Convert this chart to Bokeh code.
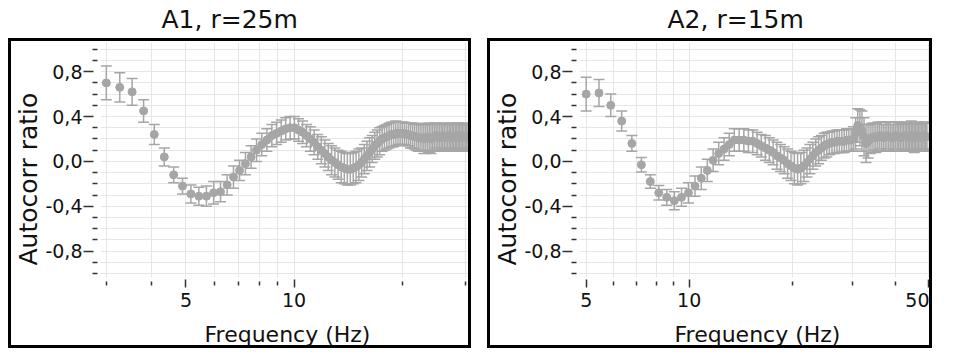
from bokeh.plotting import figure
from bokeh.models import (FixedTicker, Whisker, TeeHead, ColumnDataSource,
                          Range1d, NumeralTickFormatter, Label, Title, Spacer)
from bokeh.layouts import row, column
from bokeh.embed import file_html
from bokeh.resources import INLINE

# ---------------- data ----------------
A1_TITLE = "A1, r=25m"
A2_TITLE = "A2, r=15m"
X_LABEL = "Frequency (Hz)"
Y_LABEL = "Autocorr ratio"

A1_FREQ = [
    3.00, 3.27, 3.54, 3.81, 4.08, 4.35, 4.62, 4.89, 5.16, 5.43,
    5.70, 5.97, 6.24, 6.51, 6.78, 7.05, 7.32, 7.59, 7.86, 8.13,
    8.40, 8.67, 8.94, 9.21, 9.48, 9.75, 10.02, 10.29, 10.56, 10.83,
    11.10, 11.37, 11.64, 11.91, 12.18, 12.45, 12.72, 12.99, 13.26, 13.53,
    13.80, 14.07, 14.34, 14.61, 14.88, 15.15, 15.42, 15.69, 15.96, 16.23,
    16.50, 16.77, 17.04, 17.31, 17.58, 17.85, 18.12, 18.39, 18.66, 18.93,
    19.20, 19.47, 19.74, 20.01, 20.28, 20.55, 20.82, 21.09, 21.36, 21.63,
    21.90, 22.17, 22.44, 22.71, 22.98, 23.25, 23.52, 23.79, 24.06, 24.33,
    24.60, 24.87, 25.14, 25.41, 25.68, 25.95, 26.22, 26.49, 26.76, 27.03,
    27.30, 27.57, 27.84, 28.11, 28.38, 28.65, 28.92, 29.19, 29.46, 29.73,
    30.00, 30.27, 30.54, 30.81,
]
A1_RATIO = [
    0.70, 0.66, 0.62, 0.45, 0.24, 0.04, -0.12, -0.22, -0.29, -0.31,
    -0.31, -0.28, -0.27, -0.21, -0.14, -0.08, -0.02, 0.04, 0.10, 0.15,
    0.19, 0.23, 0.25, 0.27, 0.29, 0.30, 0.30, 0.28, 0.26, 0.23,
    0.20, 0.17, 0.13, 0.10, 0.07, 0.04, 0.01, -0.01, -0.03, -0.05,
    -0.06, -0.07, -0.07, -0.06, -0.05, -0.03, -0.01, 0.02, 0.05, 0.08,
    0.11, 0.14, 0.16, 0.18, 0.20, 0.21, 0.22, 0.23, 0.24, 0.24,
    0.25, 0.25, 0.25, 0.25, 0.25, 0.24, 0.24, 0.23, 0.23, 0.22,
    0.22, 0.21, 0.21, 0.21, 0.20, 0.21, 0.22, 0.21, 0.20, 0.21,
    0.22, 0.23, 0.22, 0.21, 0.22, 0.23, 0.22, 0.21, 0.22, 0.23,
    0.22, 0.21, 0.22, 0.22, 0.23, 0.22, 0.21, 0.22, 0.23, 0.22,
    0.22, 0.21, 0.22, 0.22,
]
A1_ERR = [
    0.15, 0.13, 0.12, 0.10, 0.09, 0.08, 0.07, 0.07, 0.08, 0.08,
    0.09, 0.10, 0.09, 0.09, 0.10, 0.09, 0.10, 0.10, 0.10, 0.10,
    0.10, 0.10, 0.10, 0.10, 0.10, 0.10, 0.10, 0.10, 0.10, 0.10,
    0.11, 0.11, 0.11, 0.12, 0.12, 0.12, 0.13, 0.13, 0.13, 0.14,
    0.14, 0.14, 0.14, 0.14, 0.14, 0.14, 0.13, 0.13, 0.13, 0.13,
    0.12, 0.12, 0.12, 0.12, 0.11, 0.11, 0.11, 0.11, 0.11, 0.11,
    0.11, 0.10, 0.10, 0.10, 0.10, 0.10, 0.10, 0.11, 0.11, 0.11,
    0.12, 0.12, 0.12, 0.12, 0.13, 0.12, 0.12, 0.13, 0.13, 0.12,
    0.12, 0.11, 0.12, 0.12, 0.11, 0.11, 0.12, 0.12, 0.11, 0.11,
    0.12, 0.12, 0.11, 0.12, 0.11, 0.12, 0.12, 0.11, 0.11, 0.12,
    0.11, 0.12, 0.11, 0.11,
]

A2_FREQ = [
    5.00, 5.45, 5.90, 6.35, 6.80, 7.25, 7.70, 8.15, 8.60, 9.05,
    9.50, 9.95, 10.40, 10.85, 11.30, 11.75, 12.20, 12.65, 13.10, 13.55,
    14.00, 14.45, 14.90, 15.35, 15.80, 16.25, 16.70, 17.15, 17.60, 18.05,
    18.50, 18.95, 19.40, 19.85, 20.30, 20.75, 21.20, 21.65, 22.10, 22.55,
    23.00, 23.45, 23.90, 24.35, 24.80, 25.25, 25.70, 26.15, 26.60, 27.05,
    27.50, 27.95, 28.40, 28.85, 29.30, 29.75, 30.20, 30.65, 31.10, 31.55,
    32.00, 32.45, 32.90, 33.35, 33.80, 34.25, 34.70, 35.15, 35.60, 36.05,
    36.50, 36.95, 37.40, 37.85, 38.30, 38.75, 39.20, 39.65, 40.10, 40.55,
    41.00, 41.45, 41.90, 42.35, 42.80, 43.25, 43.70, 44.15, 44.60, 45.05,
    45.50, 45.95, 46.40, 46.85, 47.30, 47.75, 48.20, 48.65, 49.10, 49.55,
]
A2_RATIO = [
    0.60, 0.61, 0.50, 0.36, 0.16, -0.03, -0.18, -0.28, -0.32, -0.35,
    -0.32, -0.28, -0.22, -0.15, -0.08, 0.01, 0.07, 0.11, 0.15, 0.19,
    0.19, 0.19, 0.18, 0.18, 0.16, 0.14, 0.12, 0.10, 0.08, 0.05,
    0.03, 0.01, -0.02, -0.04, -0.06, -0.07, -0.06, -0.04, -0.01, 0.02,
    0.05, 0.08, 0.10, 0.12, 0.14, 0.15, 0.16, 0.17, 0.17, 0.18,
    0.18, 0.18, 0.18, 0.19, 0.19, 0.19, 0.20, 0.25, 0.32, 0.30,
    0.27, 0.22, 0.16, 0.18, 0.20, 0.21, 0.22, 0.21, 0.22, 0.23,
    0.22, 0.21, 0.22, 0.23, 0.22, 0.22, 0.21, 0.22, 0.23, 0.22,
    0.22, 0.21, 0.22, 0.22, 0.23, 0.22, 0.21, 0.22, 0.23, 0.22,
    0.21, 0.22, 0.23, 0.22, 0.22, 0.21, 0.22, 0.23, 0.22, 0.22,
]
A2_ERR = [
    0.15, 0.12, 0.10, 0.09, 0.07, 0.065, 0.06, 0.065, 0.07, 0.08,
    0.08, 0.09, 0.09, 0.10, 0.10, 0.10, 0.10, 0.10, 0.10, 0.10,
    0.10, 0.10, 0.10, 0.10, 0.10, 0.10, 0.11, 0.11, 0.11, 0.12,
    0.12, 0.12, 0.13, 0.13, 0.14, 0.14, 0.14, 0.14, 0.13, 0.13,
    0.12, 0.12, 0.12, 0.11, 0.11, 0.11, 0.10, 0.10, 0.10, 0.10,
    0.10, 0.10, 0.10, 0.10, 0.10, 0.10, 0.11, 0.14, 0.15, 0.16,
    0.18, 0.17, 0.17, 0.15, 0.13, 0.13, 0.12, 0.13, 0.13, 0.12,
    0.13, 0.12, 0.13, 0.12, 0.13, 0.13, 0.12, 0.13, 0.12, 0.13,
    0.13, 0.12, 0.12, 0.13, 0.12, 0.13, 0.12, 0.12, 0.13, 0.12,
    0.13, 0.12, 0.12, 0.13, 0.12, 0.12, 0.13, 0.12, 0.12, 0.13,
]

A1_X_MAJOR = [5, 10]
A1_X_MINOR = [3, 4, 6, 7, 8, 9, 20, 30]
A2_X_MAJOR = [5, 10, 50]
A2_X_MINOR = [6, 7, 8, 9, 20, 30, 40]
Y_MAJOR = [-0.8, -0.4, 0.0, 0.4, 0.8]
Y_MAJOR_LABELS = ["-0,8", "-0,4", "0,0", "0,4", "0,8"]
Y_MINOR = [-1.0, -0.9, -0.7, -0.6, -0.5, -0.3, -0.2, -0.1,
           0.1, 0.2, 0.3, 0.5, 0.6, 0.7, 0.9, 1.0]

# ---------------- style ----------------
FONT = "DejaVu Sans"
GREY = "#a6a6a6"
GRID = "#e6e6e6"
TITLE_H = 38
MAIN_H = 316
BW = 3  # panel border width


def make_title(text, width, offset):
    t = figure(width=width, height=TITLE_H, x_range=(0, 1), y_range=(0, 1),
               output_backend="svg", toolbar_location=None,
               x_axis_location=None, y_axis_location=None,
               min_border_left=0, min_border_right=0,
               min_border_top=0, min_border_bottom=0,
               outline_line_color=None,
               background_fill_color="white", border_fill_color="white")
    t.grid.visible = False
    t.add_layout(Label(x=offset, x_units="screen", y=0.5, y_units="data",
                       text=text, text_font=FONT, text_font_size="25px",
                       text_color="#111111", text_baseline="middle",
                       text_align="left"))
    return t


def make_panel(freq, ratio, err, x_rng, x_major, x_minor, width):
    p = figure(width=width - 2 * BW, height=MAIN_H - 2 * BW, x_axis_type="log",
               x_range=Range1d(*x_rng), y_range=Range1d(-1.035, 1.06),
               output_backend="svg", toolbar_location=None,
               min_border_left=85, min_border_right=0,
               min_border_top=1, min_border_bottom=74,
               outline_line_color=None, background_fill_color="white",
               border_fill_color="white")
    p.styles = {"border": f"{BW}px solid black"}

    src = ColumnDataSource(dict(
        f=freq, r=ratio,
        lo=[v - e for v, e in zip(ratio, err)],
        hi=[v + e for v, e in zip(ratio, err)],
    ))
    wh = Whisker(source=src, base="f", upper="hi", lower="lo",
                 dimension="height", line_color=GREY, line_width=1.5,
                 upper_head=TeeHead(size=11, line_color=GREY, line_width=1.5),
                 lower_head=TeeHead(size=11, line_color=GREY, line_width=1.5))
    p.add_layout(wh)
    p.scatter("f", "r", source=src, size=8, color=GREY, line_color=GREY)

    xa = p.xaxis[0]
    xa.ticker = FixedTicker(ticks=x_major, minor_ticks=x_minor)
    xa.formatter = NumeralTickFormatter(format="0")
    xa.axis_label = X_LABEL
    ya = p.yaxis[0]
    ya.ticker = FixedTicker(ticks=Y_MAJOR, minor_ticks=Y_MINOR)
    ya.major_label_overrides = dict(zip(Y_MAJOR, Y_MAJOR_LABELS))

    for ax in (xa, ya):
        ax.axis_line_color = None
        ax.major_tick_line_color = "#333333"
        ax.minor_tick_line_color = "#333333"
        ax.major_tick_line_width = 1.5
        ax.minor_tick_line_width = 1.5
        ax.major_label_text_font = FONT
        ax.major_label_text_font_size = "19px"
        ax.major_label_text_color = "#111111"
        ax.axis_label_text_font = FONT
        ax.axis_label_text_font_style = "normal"
        ax.axis_label_text_color = "#111111"
    # ticks stand a little away from the frame, as in the reference
    xa.major_tick_in, xa.major_tick_out = -2, 10
    xa.minor_tick_in, xa.minor_tick_out = -4, 8
    xa.major_label_standoff = 5
    xa.axis_label_standoff = 12
    xa.axis_label_text_font_size = "22px"
    ya.major_tick_in, ya.major_tick_out = -7, 17
    ya.minor_tick_in, ya.minor_tick_out = -3, 8
    ya.major_label_standoff = 1

    p.add_layout(Title(text=Y_LABEL, align="left", offset=12, standoff=0,
                       text_font=FONT, text_font_size="25px",
                       text_font_style="normal", text_color="#111111"), "left")

    for g in (p.xgrid[0], p.ygrid[0]):
        g.grid_line_color = GRID
        g.minor_grid_line_color = GRID
        g.grid_line_width = 1
        g.minor_grid_line_width = 1
    return p


W1, W2 = 469, 451
t1 = make_title(A1_TITLE, W1, 64)
t2 = make_title(A2_TITLE, W2, 91)
p1 = make_panel(A1_FREQ, A1_RATIO, A1_ERR, (2.89, 31.8), A1_X_MAJOR, A1_X_MINOR, W1)
p2 = make_panel(A2_FREQ, A2_RATIO, A2_ERR, (4.78, 52.5), A2_X_MAJOR, A2_X_MINOR, W2)

layout = row(Spacer(width=8),
             column(t1, p1, spacing=0),
             Spacer(width=10),
             column(t2, p2, spacing=0),
             spacing=0)
open("out.html", "w").write(file_html(layout, INLINE))
